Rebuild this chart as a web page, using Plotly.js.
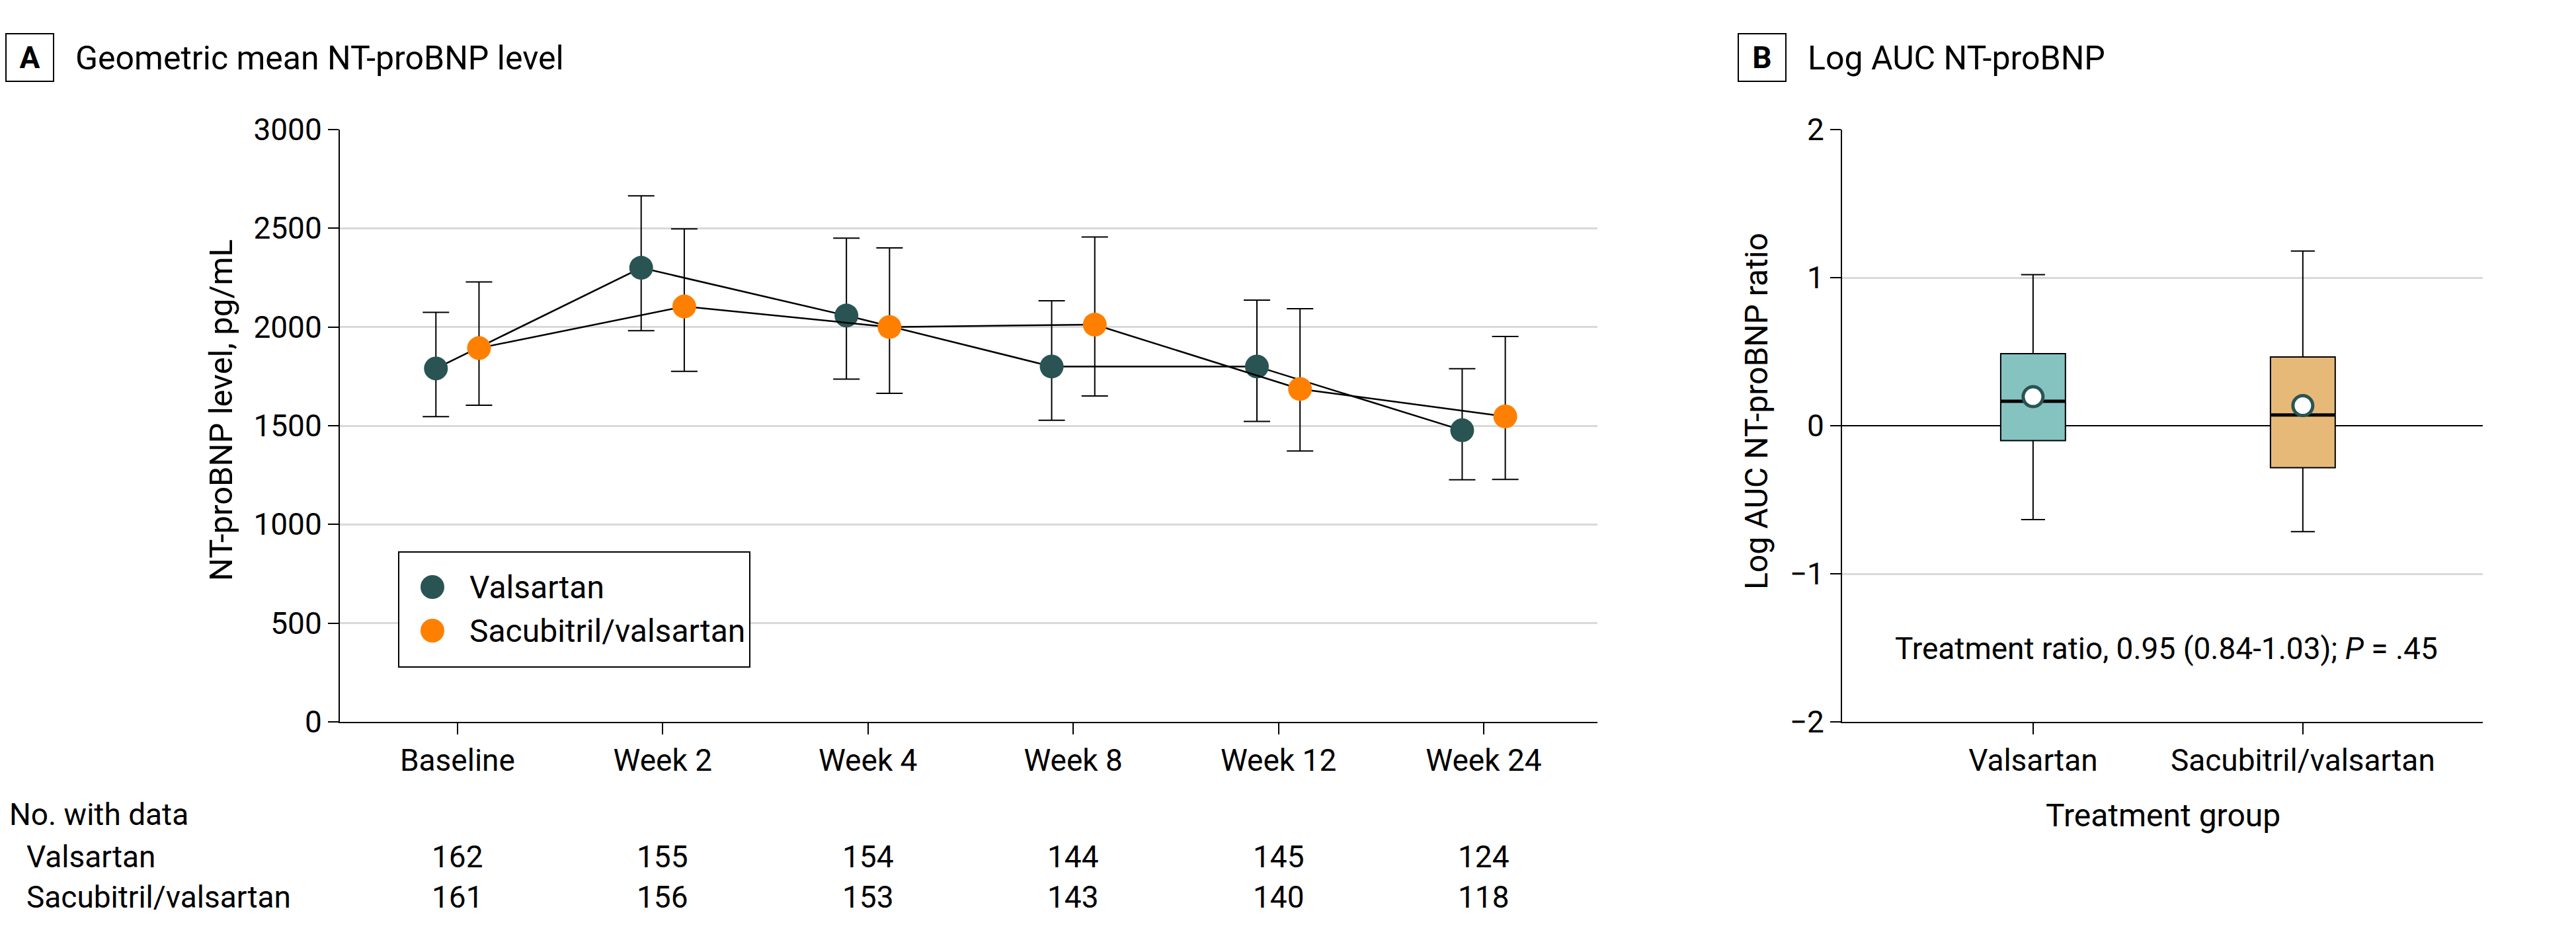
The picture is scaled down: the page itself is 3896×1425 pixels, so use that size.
<!DOCTYPE html>
<html>
<head>
<meta charset="utf-8">
<script src="https://cdn.plot.ly/plotly-3.0.1.min.js"></script>
<style>html,body{margin:0;padding:0;background:#fff;}#chart{width:3896px;height:1425px;}</style>
</head>
<body>
<div id="chart"></div>
<script>
// ---------- Panel A data ----------
const categories = ['Baseline', 'Week 2', 'Week 4', 'Week 8', 'Week 12', 'Week 24'];
const valsartanMean  = [1790, 2300, 2058, 1800, 1800, 1477];
const valsartanLower = [1546, 1981, 1736, 1528, 1522, 1226];
const valsartanUpper = [2074, 2664, 2450, 2133, 2136, 1789];
const sacubitrilMean  = [1893, 2104, 2000, 2012, 1686, 1547];
const sacubitrilLower = [1604, 1775, 1664, 1651, 1372, 1228];
const sacubitrilUpper = [2228, 2497, 2401, 2456, 2093, 1952];
const nValsartan  = [162, 155, 154, 144, 145, 124];
const nSacubitril = [161, 156, 153, 143, 140, 118];
const seriesNames = ['Valsartan', 'Sacubitril/valsartan'];

// ---------- Panel B data ----------
const groups = ['Valsartan', 'Sacubitril/valsartan'];
const boxLowerWhisker = [-0.634, -0.715];
const boxQ1 = [-0.10, -0.283];
const boxMedian = [0.165, 0.073];
const boxQ3 = [0.487, 0.464];
const boxUpperWhisker = [1.02, 1.18];
const boxMean = [0.196, 0.136];
const ratioText = 'Treatment ratio, 0.95 (0.84-1.03); <i>P</i> = .45';

// ---------- styles ----------
const FONT = 'Roboto, "Noto Sans", Arial, sans-serif';
const C_VAL = '#295453';
const C_SAC = '#ff8000';
const BOX_FILL = ['#85c3c1', '#e6b978'];
const GRID = '#d9d9d9';
const W = 3896, H = 1425;
const px = v => v / W;          // pixel -> paper x
const py = v => 1 - v / H;      // pixel -> paper y
const OFF = 0.105;              // dodge between the two series
const BOXW = 0.24;

const idx = categories.map((_, i) => i);

function seriesTrace(name, mean, lo, hi, color, dx) {
  return {
    type: 'scatter', mode: 'lines+markers', name: name,
    x: idx.map(i => i + dx), y: mean,
    xaxis: 'x', yaxis: 'y',
    line: {color: '#000', width: 2.5},
    marker: {color: color, size: 36, line: {width: 0}},
    error_y: {type: 'data', symmetric: false,
      array: hi.map((v, i) => v - mean[i]),
      arrayminus: lo.map((v, i) => mean[i] - v),
      color: '#000', thickness: 2, width: 20},
    showlegend: false, hoverinfo: 'skip'
  };
}

const traces = [
  seriesTrace(seriesNames[0], valsartanMean, valsartanLower, valsartanUpper, C_VAL, -OFF),
  seriesTrace(seriesNames[1], sacubitrilMean, sacubitrilLower, sacubitrilUpper, C_SAC, OFF)
];

groups.forEach((g, i) => {
  traces.push({
    type: 'box', name: g, xaxis: 'x2', yaxis: 'y2',
    x: [i], q1: [boxQ1[i]], median: [boxMedian[i]], q3: [boxQ3[i]],
    lowerfence: [boxLowerWhisker[i]], upperfence: [boxUpperWhisker[i]],
    fillcolor: BOX_FILL[i], line: {color: '#000', width: 2},
    width: BOXW, whiskerwidth: 0.37, boxpoints: false,
    showlegend: false, hoverinfo: 'skip'
  });
  traces.push({
    type: 'scatter', mode: 'lines', xaxis: 'x2', yaxis: 'y2',
    x: [i - BOXW / 2, i + BOXW / 2], y: [boxMedian[i], boxMedian[i]],
    line: {color: '#000', width: 5}, showlegend: false, hoverinfo: 'skip'
  });
});
traces.push({
  type: 'scatter', mode: 'markers', xaxis: 'x2', yaxis: 'y2',
  x: groups.map((_, i) => i), y: boxMean,
  marker: {color: '#fff', size: 30, line: {color: C_VAL, width: 5}},
  showlegend: false, hoverinfo: 'skip'
});

const tickFont = {family: FONT, size: 46, color: '#000'};
const textFont = {family: FONT, size: 48, color: '#000'};

const annotations = [
  {xref: 'paper', yref: 'paper', x: px(45), y: py(87), text: '<b>A</b>', showarrow: false,
   font: {family: FONT, size: 46, color: '#000'}, bordercolor: '#000', borderwidth: 2, borderpad: 0,
   width: 70, height: 70, xanchor: 'center', yanchor: 'middle'},
  {xref: 'paper', yref: 'paper', x: px(112), y: py(88), text: 'Geometric mean NT-proBNP level', showarrow: false,
   font: {family: FONT, size: 50, color: '#000'}, xanchor: 'left', yanchor: 'middle'},
  {xref: 'paper', yref: 'paper', x: px(2665), y: py(87), text: '<b>B</b>', showarrow: false,
   font: {family: FONT, size: 46, color: '#000'}, bordercolor: '#000', borderwidth: 2, borderpad: 0,
   width: 70, height: 70, xanchor: 'center', yanchor: 'middle'},
  {xref: 'paper', yref: 'paper', x: px(2732), y: py(88), text: 'Log AUC NT-proBNP', showarrow: false,
   font: {family: FONT, size: 50, color: '#000'}, xanchor: 'left', yanchor: 'middle'},
  {xref: 'paper', yref: 'paper', x: px(334), y: py(621), text: 'NT-proBNP level, pg/mL', showarrow: false,
   font: {family: FONT, size: 49, color: '#000'}, textangle: -90, xanchor: 'center', yanchor: 'middle'},
  {xref: 'paper', yref: 'paper', x: px(2657), y: py(622), text: 'Log AUC NT-proBNP ratio', showarrow: false,
   font: textFont, textangle: -90, xanchor: 'center', yanchor: 'middle'},
  {xref: 'paper', yref: 'paper', x: px(3271), y: py(1233), text: 'Treatment group', showarrow: false,
   font: textFont, xanchor: 'center', yanchor: 'middle'},
  {xref: 'paper', yref: 'paper', x: px(3276), y: py(981), text: ratioText, showarrow: false,
   font: tickFont, xanchor: 'center', yanchor: 'middle'},
  {xref: 'paper', yref: 'paper', x: px(12), y: py(1232), text: 'No. with data', showarrow: false,
   font: tickFont, xanchor: 'left', yanchor: 'middle'},
  {xref: 'paper', yref: 'paper', x: px(38), y: py(1296), text: seriesNames[0], showarrow: false,
   font: tickFont, xanchor: 'left', yanchor: 'middle'},
  {xref: 'paper', yref: 'paper', x: px(38), y: py(1357), text: seriesNames[1], showarrow: false,
   font: tickFont, xanchor: 'left', yanchor: 'middle'},
  // legend labels
  {xref: 'paper', yref: 'paper', x: px(708), y: py(888), text: seriesNames[0], showarrow: false,
   font: textFont, xanchor: 'left', yanchor: 'middle'},
  {xref: 'paper', yref: 'paper', x: px(708), y: py(954), text: seriesNames[1], showarrow: false,
   font: textFont, xanchor: 'left', yanchor: 'middle'}
];
idx.forEach(i => {
  annotations.push({xref: 'x', yref: 'paper', x: i, y: py(1296), text: String(nValsartan[i]),
    showarrow: false, font: tickFont, xanchor: 'center', yanchor: 'middle'});
  annotations.push({xref: 'x', yref: 'paper', x: i, y: py(1357), text: String(nSacubitril[i]),
    showarrow: false, font: tickFont, xanchor: 'center', yanchor: 'middle'});
});

const shapes = [
  {type: 'rect', xref: 'paper', yref: 'paper', x0: px(603), x1: px(1134), y0: py(1009), y1: py(835),
   line: {color: '#000', width: 2}, fillcolor: '#fff', layer: 'above'},
  {type: 'circle', xref: 'paper', yref: 'paper', xsizemode: 'pixel', ysizemode: 'pixel',
   xanchor: px(654), yanchor: py(888), x0: -18, x1: 18, y0: -18, y1: 18,
   fillcolor: C_VAL, line: {width: 0}, layer: 'above'},
  {type: 'circle', xref: 'paper', yref: 'paper', xsizemode: 'pixel', ysizemode: 'pixel',
   xanchor: px(654), yanchor: py(954), x0: -18, x1: 18, y0: -18, y1: 18,
   fillcolor: C_SAC, line: {width: 0}, layer: 'above'}
];

const yDomain = [py(1092), py(196)];
const layout = {
  width: W, height: H,
  margin: {l: 0, r: 0, t: 0, b: 0, pad: 0},
  paper_bgcolor: '#fff', plot_bgcolor: '#fff',
  font: {family: FONT, color: '#000'},
  showlegend: false,
  xaxis: {
    domain: [px(514), px(2416)], range: [-0.573, 5.554], anchor: 'y',
    tickmode: 'array', tickvals: idx, ticktext: categories,
    ticks: 'outside', ticklen: 17, tickwidth: 2, tickcolor: '#000',
    showline: true, linecolor: '#000', linewidth: 2,
    showgrid: false, zeroline: false, tickfont: tickFont, fixedrange: true
  },
  yaxis: {
    domain: yDomain, range: [0, 3000], anchor: 'x',
    tickmode: 'linear', tick0: 0, dtick: 500,
    ticks: 'outside', ticklen: 16, tickwidth: 2, tickcolor: '#000',
    showline: true, linecolor: '#000', linewidth: 2,
    showgrid: true, gridcolor: GRID, gridwidth: 3,
    zeroline: false, tickfont: tickFont, fixedrange: true
  },
  xaxis2: {
    domain: [px(2786), px(3755)], range: [-0.708, 1.667], anchor: 'y2',
    tickmode: 'array', tickvals: groups.map((_, i) => i), ticktext: groups,
    ticks: 'outside', ticklen: 17, tickwidth: 2, tickcolor: '#000',
    showline: true, linecolor: '#000', linewidth: 2,
    showgrid: false, zeroline: false, tickfont: tickFont, fixedrange: true
  },
  yaxis2: {
    domain: yDomain, range: [-2, 2], anchor: 'x2',
    tickmode: 'linear', tick0: -2, dtick: 1,
    ticks: 'outside', ticklen: 16, tickwidth: 2, tickcolor: '#000',
    showline: true, linecolor: '#000', linewidth: 2,
    showgrid: true, gridcolor: GRID, gridwidth: 3,
    zeroline: true, zerolinecolor: '#000', zerolinewidth: 2,
    tickfont: tickFont, fixedrange: true
  },
  annotations: annotations,
  shapes: shapes
};

Plotly.newPlot('chart', traces, layout, {staticPlot: true, displayModeBar: false});
</script>
</body>
</html>
